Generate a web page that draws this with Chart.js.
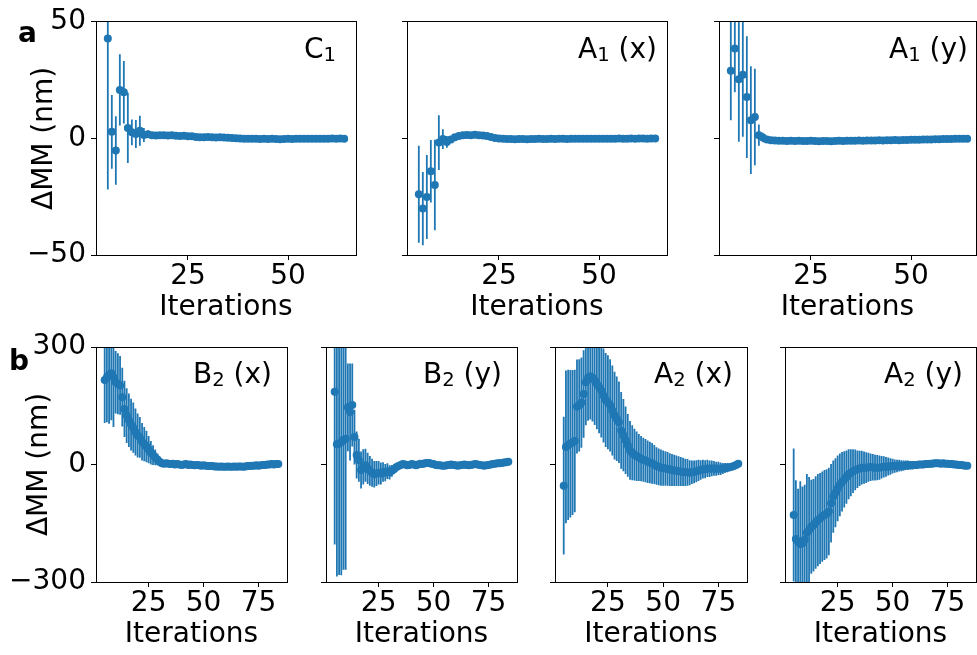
<!DOCTYPE html>
<html><head><meta charset="utf-8">
<script src="https://cdn.jsdelivr.net/npm/chart.js@4/dist/chart.umd.min.js"></script>
<style>
html,body{margin:0;padding:0;background:#fff;}
#fig{position:relative;width:977px;height:655px;overflow:hidden;background:#fff;}
#fig canvas{position:absolute;left:0;top:0;}
</style></head><body><div id="fig"></div>
<script>
// ---------- data ----------
const topIterations = [5,6,7,8,9,10,11,12,13,14,15,16,17,18,19,20,21,22,23,24,25,26,27,28,29,30,31,32,33,34,35,36,37,38,39,40,41,42,43,44,45,46,47,48,49,50,51,52,53,54,55,56,57,58,59,60,61,62,63,64];
const bottomIterations = [5,6,7,8,9,10,11,12,13,14,15,16,17,18,19,20,21,22,23,24,25,26,27,28,29,30,31,32,33,34,35,36,37,38,39,40,41,42,43,44,45,46,47,48,49,50,51,52,53,54,55,56,57,58,59,60,61,62,63,64,65,66,67,68,69,70,71,72,73,74,75,76,77,78,79,80,81,82,83,84];

const c1Values = [42.8,2.8,-5.2,20.8,19.8,4.5,2.6,1.9,3.3,1.5, 1.8,1.3,1.2,1.4,1.3,1.2,1.3,1.1,1.0,1.1, 0.9,0.9,0.6,0.5,0.5,0.6,0.5,0.4,0.5,0.4, 0.3,0.2,0.1,0.0,-0.1,-0.2,-0.1,-0.2,-0.3,-0.2, -0.3,-0.2,-0.3,-0.4,-0.3,-0.2,-0.3,-0.2,-0.2,-0.1, -0.2,-0.2,-0.1,-0.2,-0.1,-0.1,0.0,-0.1,0.0,-0.1];
const c1Errors = [64.7,15.8,14.7,15.3,13.4,15.1,5.5,6.0,6.4,3.0, 1.6,1.3,1.1,1.0,1.0,0.9,0.9,0.8,0.8,0.8, 0.7,0.7,0.7,0.6,0.6,0.6,0.6,0.5,0.5,0.5, 0.5,0.5,0.5,0.5,0.4,0.4,0.4,0.4,0.4,0.4, 0.4,0.4,0.4,0.3,0.3,0.3,0.3,0.3,0.3,0.3, 0.3,0.3,0.3,0.3,0.3,0.3,0.3,0.3,0.3,0.3];

const a1xValues = [-24.0,-30.1,-25.1,-14.1,-20.0,-1.8,-0.3,-1.5,-0.5,0.5, 1.0,1.3,1.5,1.4,1.6,1.4,1.2,1.0,0.6,0.2, 0.0,-0.2,-0.3,-0.3,-0.4,-0.3,-0.3,-0.4,-0.3,-0.3, -0.2,-0.3,-0.3,-0.2,-0.3,-0.2,-0.2,-0.3,-0.2,-0.2, -0.1,-0.2,-0.2,-0.1,-0.2,-0.1,-0.1,-0.2,-0.1,-0.1, 0.0,-0.1,-0.1,0.0,-0.1,0.0,0.0,-0.1,0.0,0.0];
const a1xErrors = [20.8,15.7,18.0,13.4,19.4,11.7,4.2,2.5,1.5,1.2, 1.0,0.9,0.9,0.8,0.8,0.8,0.7,0.7,0.7,0.6, 0.6,0.6,0.6,0.5,0.5,0.5,0.5,0.5,0.5,0.5, 0.4,0.4,0.4,0.4,0.4,0.4,0.4,0.4,0.4,0.4, 0.4,0.4,0.3,0.3,0.3,0.3,0.3,0.3,0.3,0.3, 0.3,0.3,0.3,0.3,0.3,0.3,0.3,0.3,0.3,0.3];

const a1yValues = [29.0,38.6,25.4,27.3,17.7,7.8,9.2,1.4,0.4,-0.5, -0.8,-0.9,-1.0,-1.0,-1.1,-1.0,-1.1,-1.0,-1.1,-1.1, -1.0,-1.1,-1.2,-1.1,-1.1,-1.2,-1.1,-1.0,-1.1,-1.0, -1.0,-1.0,-0.9,-1.0,-0.9,-0.9,-0.9,-0.8,-0.9,-0.8, -0.8,-0.7,-0.8,-0.7,-0.7,-0.6,-0.6,-0.6,-0.5,-0.5, -0.5,-0.4,-0.4,-0.3,-0.3,-0.3,-0.2,-0.2,-0.1,-0.1];
const a1yErrors = [21.2,18.8,26.8,26.6,26.1,23.1,20.7,4.6,2.0,1.2, 1.0,0.9,0.9,0.8,0.8,0.8,0.7,0.7,0.7,0.7, 0.6,0.6,0.6,0.6,0.6,0.5,0.5,0.5,0.5,0.5, 0.5,0.5,0.5,0.5,0.5,0.4,0.4,0.4,0.4,0.4, 0.4,0.4,0.4,0.4,0.4,0.3,0.3,0.3,0.3,0.3, 0.3,0.3,0.3,0.3,0.3,0.3,0.3,0.3,0.3,0.3];

const b2xValues = [216,223,229,233,223,210,206,202,172,142, 125,113,102,94,83,74,69,58,52,46, 38,30,24,18,13,7,3,2,3,2, 1,2,0,1,0,-1,0,1,-1,0, -1,-2,-1,-2,-3,-2,-3,-4,-4,-4, -5,-5,-6,-5,-6,-6,-5,-6,-6,-5, -6,-5,-5,-6,-5,-4,-4,-3,-3,-2, -3,-2,-1,-1,0,0,1,0,1,1];
const b2xErrors = [110,115,125,120,127,80,78,75,75,72, 70,68,66,64,60,56,52,48,44,40, 35,30,25,20,15,11,7,6,5,5, 5,4,4,4,4,4,4,3,3,3, 3,3,3,3,3,3,3,3,3,3, 3,3,3,3,3,3,3,3,3,3, 2,2,2,2,2,2,2,2,2,2, 2,2,2,2,2,2,2,2,2,2];

const b2yValues = [186,52,53,57,63,66,146,134,152,70, 24,11,-14,-6,-2,-10,-16,-21,-25,-23, -21,-23,-19,-21,-17,-20,-16,-12,-7,-4, -1,1,0,-2,-1,1,0,-2,0,2, 1,3,4,4,2,1,-1,-2,-2,-3, -3,-2,-1,0,-1,-2,-3,-2,-1,0, -1,-2,-1,0,1,0,-1,-2,-3,-2, -1,0,1,2,3,3,4,5,6,7];
const b2yErrors = [390,338,335,340,332,335,112,124,106,70, 60,55,47,45,42,40,38,36,34,32, 30,28,25,22,20,18,15,12,10,8, 7,6,6,5,5,5,5,4,4,4, 4,4,4,4,4,4,4,4,4,4, 4,4,4,4,4,4,4,4,4,4, 3,3,3,3,3,3,3,3,3,3, 3,3,3,3,3,3,3,3,3,3];

const a2xValues = [-54,45,50,53,56,60,148,151,158,180, 210,222,225,222,215,206,198,189,176,165, 159,151,138,125,117,108,87,75,62,49, 36,30,25,21,18,15,12,10,7,5, 3,0,-4,-6,-8,-9,-10,-11,-13,-14, -15,-16,-17,-18,-19,-20,-20,-21,-20,-19, -17,-15,-14,-12,-12,-10,-11,-10,-10,-11, -10,-11,-10,-9,-8,-7,-6,-4,-1,2];
const a2xErrors = [176,195,192,188,185,182,120,118,115,112, 110,110,110,112,114,116,118,120,120,120, 120,118,115,112,108,104,98,92,86,80, 75,70,66,63,60,58,56,55,54,53, 52,50,48,47,46,45,44,43,42,41, 40,39,38,37,36,35,34,32,30,29, 28,27,25,24,23,22,21,20,19,18, 17,16,14,13,12,10,9,8,6,5];

const a2yValues = [-129,-190,-197,-203,-201,-192,-174,-167,-159,-155, -148,-142,-138,-133,-129,-126,-120,-99,-82,-72, -61,-52,-44,-38,-32,-25,-21,-17,-14,-12, -10,-8,-8,-8,-7,-7,-7,-8,-8,-8, -7,-6,-6,-5,-5,-4,-4,-4,-3,-3, -3,-2,-2,-2,-2,-1,-1,0,0,0, 1,1,2,2,3,3,3,2,3,2, 2,1,1,0,0,-1,-1,-2,-3,-3];
const a2yErrors = [170,150,135,160,145,140,150,135,120,118, 118,118,116,115,115,114,112,100,92,88, 84,80,76,72,68,64,60,56,52,48, 45,43,41,39,37,35,34,33,32,31, 29,27,25,23,21,19,17,16,15,14, 13,12,12,11,11,10,10,9,9,8, 8,7,7,6,6,6,5,5,5,5, 5,4,4,4,4,4,3,3,3,3];

const topYTicks = [-50, 0, 50];
const topYTickLabels = ['\u221250', '0', '50'];
const bottomYTicks = [-300, 0, 300];
const bottomYTickLabels = ['\u2212300', '0', '300'];
const topXTicks = [25, 50];
const bottomXTicks = [25, 50, 75];
const topTitles = [['C','1',''], ['A','1',' (x)'], ['A','1',' (y)']];
const bottomTitles = [['B','2',' (x)'], ['B','2',' (y)'], ['A','2',' (x)'], ['A','2',' (y)']];
const xAxisTitle = 'Iterations';
const yAxisTitle = '\u0394MM (nm)';
const rowLetters = ['a', 'b'];

// ---------- layout / style ----------
const FIG_W = 977, FIG_H = 655, Y_BOX = 90, X_BOX = 72;
const BLUE = '#1f77b4';
const FONT = "'DejaVu Sans'";
Chart.defaults.font.family = FONT;
Chart.defaults.color = '#000';

function align(p) { return Math.round(p - 0.5) + 0.5; }

const decorPlugin = {
  id: 'panelDecor',
  afterDraw(chart, args, o) {
    const {ctx, chartArea: a} = chart;
    ctx.save();
    ctx.strokeStyle = '#000';
    ctx.lineWidth = 1;
    ctx.strokeRect(align(a.left), align(a.top), align(a.right) - align(a.left), align(a.bottom) - align(a.top));
    // panel title with subscript, right aligned
    const [main, sub, rest] = o.title;
    const big = '28px ' + FONT, small = '19.6px ' + FONT;
    ctx.fillStyle = '#000';
    ctx.textBaseline = 'alphabetic';
    ctx.textAlign = 'left';
    ctx.font = big; const w1 = ctx.measureText(main).width; const w3 = ctx.measureText(rest).width;
    ctx.font = small; const w2 = ctx.measureText(sub).width;
    let x = a.right - o.titleRight - (w1 + w2 + w3);
    const y = a.top + o.titleBaseline;
    ctx.font = big; ctx.fillText(main, x, y); x += w1;
    ctx.font = small; ctx.fillText(sub, x, y + 3); x += w2;
    ctx.font = big; ctx.fillText(rest, x, y);
    if (o.letter) {
      ctx.font = 'bold 28px ' + FONT;
      ctx.fillText(o.letter, o.letterX, o.letterY);
    }
    ctx.restore();
  }
};

function makePanel(cfg) {
  const canvas = document.createElement('canvas');
  canvas.width = FIG_W; canvas.height = FIG_H;
  canvas.style.width = FIG_W + 'px'; canvas.style.height = FIG_H + 'px';
  document.getElementById('fig').appendChild(canvas);
  const pts = cfg.iters.map((x, i) => ({x: x, y: cfg.values[i]}));
  const bars = [];
  cfg.iters.forEach((x, i) => {
    bars.push({x: x, y: cfg.values[i] - cfg.errors[i]});
    bars.push({x: x, y: cfg.values[i] + cfg.errors[i]});
    bars.push({x: x, y: null});
  });
  const gridOpts = {display: true, drawOnChartArea: false, drawTicks: true, tickLength: 5, tickColor: '#000', color: '#000', tickWidth: 1};
  new Chart(canvas, {
    type: 'scatter',
    data: {datasets: [
      {type: 'scatter', data: pts, backgroundColor: BLUE, borderColor: BLUE, pointRadius: 4, pointBorderWidth: 0, pointHoverRadius: 4, clip: 0},
      {type: 'line', data: bars, borderColor: BLUE, borderWidth: 1.8, pointRadius: 0, pointHoverRadius: 0, showLine: true, spanGaps: false, fill: false, tension: 0, clip: 0}
    ]},
    options: {
      responsive: false, animation: false, devicePixelRatio: 1, events: [],
      layout: {autoPadding: false, padding: {left: cfg.box.l - Y_BOX, top: cfg.box.t, right: FIG_W - cfg.box.r, bottom: FIG_H - cfg.box.b - X_BOX}},
      plugins: {
        legend: {display: false}, tooltip: {enabled: false},
        panelDecor: {title: cfg.title, titleRight: cfg.titleRight, titleBaseline: 36, letter: cfg.letter, letterX: cfg.letterX, letterY: cfg.letterY}
      },
      scales: {
        x: {
          type: 'linear', min: cfg.xMin, max: cfg.xMax,
          afterFit: s => { s.height = X_BOX; },
          afterBuildTicks: s => { s.ticks = cfg.xTicks.map(v => ({value: v})); },
          ticks: {font: {size: 28}, color: '#000', padding: 0, maxRotation: 0, autoSkip: false, callback: (v) => String(v)},
          grid: gridOpts, border: {display: false},
          title: {display: true, text: xAxisTitle, font: {size: 28}, color: '#000', padding: {top: 0, bottom: 2}}
        },
        y: {
          type: 'linear', min: cfg.yTicks[0], max: cfg.yTicks[cfg.yTicks.length - 1],
          afterFit: s => { s.width = Y_BOX; },
          afterBuildTicks: s => { s.ticks = cfg.yTicks.map(v => ({value: v})); },
          ticks: {font: {size: 28}, color: '#000', padding: 5, autoSkip: false, callback: (v, i) => cfg.showY ? cfg.yLabels[i] : ''},
          grid: gridOpts, border: {display: false},
          title: {display: cfg.showY, text: yAxisTitle, font: {size: 28}, color: '#000', padding: {top: cfg.yTitlePad, bottom: 0}}
        }
      }
    },
    plugins: [decorPlugin]
  });
}

const topBoxes = [{l:96,t:19,r:356,b:255}, {l:407,t:19,r:667,b:255}, {l:719,t:19,r:976,b:255}];
const topXMax = [66.95, 66.95, 66.2];
const topTitleRight = [20, 10, 8];
const topSeries = [[c1Values, c1Errors], [a1xValues, a1xErrors], [a1yValues, a1yErrors]];
topBoxes.forEach((box, k) => makePanel({
  box, iters: topIterations, values: topSeries[k][0], errors: topSeries[k][1],
  xMin: 2.05, xMax: topXMax[k], xTicks: topXTicks, yTicks: topYTicks, yLabels: topYTickLabels,
  showY: k === 0, yTitlePad: 22, title: topTitles[k], titleRight: topTitleRight[k],
  letter: k === 0 ? rowLetters[0] : null, letterX: 18, letterY: 42
}));

const bottomBoxes = [{l:96,t:347,r:287,b:582}, {l:326,t:347,r:517,b:582}, {l:555,t:347,r:747,b:582}, {l:785,t:347,r:976,b:582}];
const bottomTitleRight = [15, 15, 14, 13];
const bottomSeries = [[b2xValues, b2xErrors], [b2yValues, b2yErrors], [a2xValues, a2xErrors], [a2yValues, a2yErrors]];
bottomBoxes.forEach((box, k) => makePanel({
  box, iters: bottomIterations, values: bottomSeries[k][0], errors: bottomSeries[k][1],
  xMin: 1.05, xMax: 87.95, xTicks: bottomXTicks, yTicks: bottomYTicks, yLabels: bottomYTickLabels,
  showY: k === 0, yTitlePad: 17, title: bottomTitles[k], titleRight: bottomTitleRight[k],
  letter: k === 0 ? rowLetters[1] : null, letterX: 9, letterY: 370
}));
</script>
</body></html>
